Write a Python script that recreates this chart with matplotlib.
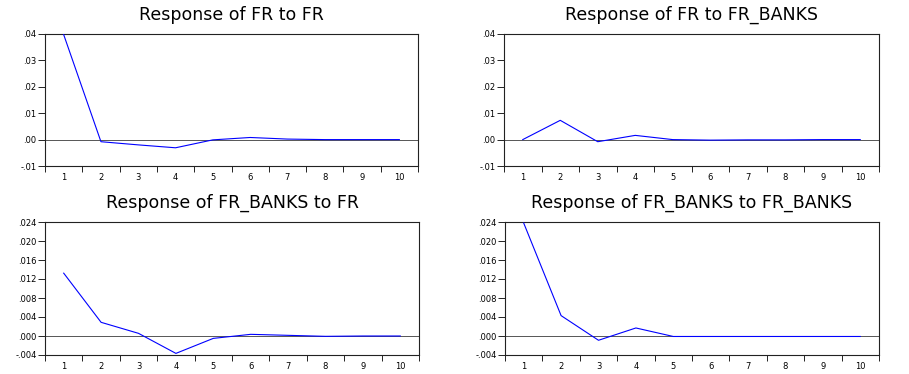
import matplotlib
matplotlib.use("Agg")
import matplotlib.pyplot as plt
import numpy as np

plt.rcParams['font.family'] = ['DejaVu Sans']

periods = [1, 2, 3, 4, 5, 6, 7, 8, 9, 10]

fr_to_fr = [0.0398, -0.0008, -0.0020, -0.0031, -0.0001, 0.0008, 0.0002, 0.0000, 0.0000, 0.0000]
fr_to_banks = [0.0000, 0.0073, -0.0008, 0.0016, 0.0000, -0.0002, -0.0001, -0.0001, 0.0000, 0.0000]
banks_to_fr = [0.01323, 0.00288, 0.00056, -0.00366, -0.0005, 0.00035, 0.00014, -0.00007, 0.0, 0.0]
banks_to_banks = [0.02378, 0.00429, -0.0009, 0.00169, -0.0001, -0.0001, -0.0001, -0.0001, -0.0001, -0.0001]

titles = ["Response of FR to FR", "Response of FR to FR_BANKS",
          "Response of FR_BANKS to FR", "Response of FR_BANKS to FR_BANKS"]
series = [fr_to_fr, fr_to_banks, banks_to_fr, banks_to_banks]

yticks_top = [-0.01, 0.00, 0.01, 0.02, 0.03, 0.04]
ylabels_top = ["-.01", ".00", ".01", ".02", ".03", ".04"]
yticks_bot = [-0.004, 0.000, 0.004, 0.008, 0.012, 0.016, 0.020, 0.024]
ylabels_bot = ["-.004", ".000", ".004", ".008", ".012", ".016", ".020", ".024"]

W, H = 909, 374
fig = plt.figure(figsize=(W / 100, H / 100), dpi=100)

boxes = [(45, 34, 418, 166), (504, 34, 879, 166), (45, 222, 419, 355), (505, 222, 879, 355)]

for i, (box, data, title) in enumerate(zip(boxes, series, titles)):
    l, t, r, b = box
    ax = fig.add_axes([l / W, 1 - b / H, (r - l) / W, (b - t) / H])
    ax.plot(periods, data, color='#0000ff', lw=0.8, zorder=3)
    ax.axhline(0, color='#555555', lw=0.7, zorder=2)
    ax.set_xlim(0.5, 10.5)
    if i < 2:
        ax.set_ylim(-0.01, 0.04)
        ax.set_yticks(yticks_top)
        ax.set_yticklabels(ylabels_top)
    else:
        ax.set_ylim(-0.004, 0.024)
        ax.set_yticks(yticks_bot)
        ax.set_yticklabels(ylabels_bot)
    ax.set_xticks(np.arange(0.5, 11, 1.0))
    ax.set_xticklabels([])
    ax.set_xticks(periods, minor=True)
    ax.set_xticklabels([str(p) for p in periods], minor=True)
    ax.tick_params(axis='x', which='major', direction='out', length=4, width=0.6)
    ax.tick_params(axis='x', which='minor', length=0, pad=5, labelsize=6)
    ax.tick_params(axis='y', direction='out', length=5, width=0.6, pad=1, labelsize=6)
    for s in ax.spines.values():
        s.set_linewidth(0.8)
        s.set_color('#222222')
    ax.set_title(title, fontsize=12.5, pad=10)

fig.savefig("out.png", dpi=100)
